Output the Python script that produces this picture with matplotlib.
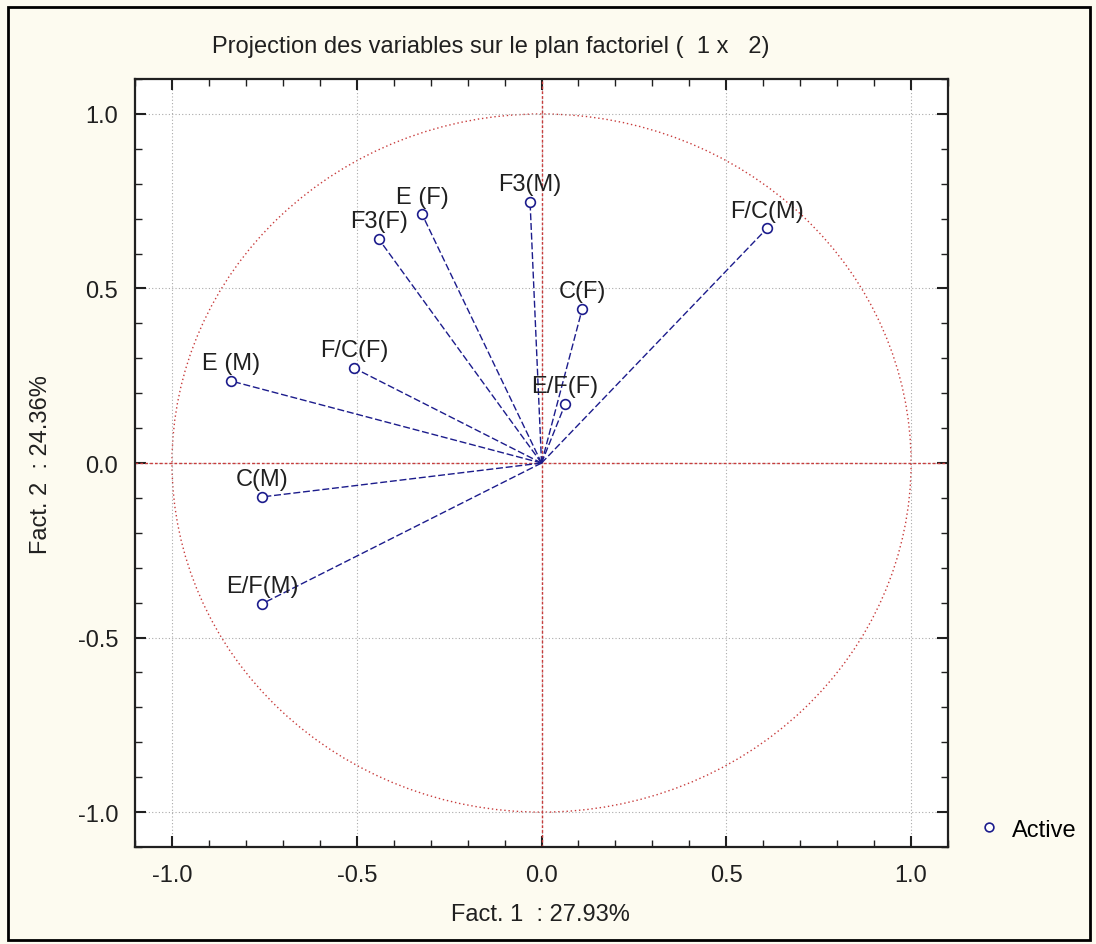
import numpy as np
import matplotlib
matplotlib.use("Agg")
import matplotlib.pyplot as plt
from matplotlib.patches import Rectangle, Circle
from matplotlib.ticker import MultipleLocator

# Variables projected on the factorial plane (Fact. 1 x Fact. 2)
names = ["E (M)", "F/C(F)", "F3(F)", "E (F)", "F3(M)", "C(F)",
         "E/F(F)", "F/C(M)", "C(M)", "E/F(M)"]
fact1 = [-0.840, -0.507, -0.440, -0.323, -0.031, 0.110, 0.064, 0.610, -0.756, -0.756]
fact2 = [0.235, 0.272, 0.641, 0.712, 0.747, 0.441, 0.169, 0.672, -0.097, -0.403]

plt.rcParams['font.family'] = ['Liberation Sans', 'DejaVu Sans']

fig = plt.figure(figsize=(10.96, 9.45), dpi=100, facecolor="#fdfbf0")
ax = fig.add_axes([0.1232, 0.1026, 0.7418, 0.8127])
ax.set_facecolor("white")

navy = "#1c1c8c"
red = "#c83c3c"
txt = "#202020"

# unit circle and axes through the origin
ax.add_patch(Circle((0, 0), 1.0, fill=False, edgecolor=red, linestyle=(0, (1, 2)), linewidth=1.0))
ax.axhline(0, color=red, linestyle=(0, (2, 1.5)), linewidth=1.0)
ax.axvline(0, color=red, linestyle=(0, (2, 1.5)), linewidth=1.0)

# vectors from origin
for x, y in zip(fact1, fact2):
    ax.plot([0, x], [0, y], color=navy, linestyle=(0, (5, 2)), linewidth=1.0)

ax.plot(fact1, fact2, linestyle="none", marker="o", markersize=7,
        markerfacecolor="white", markeredgecolor=navy, markeredgewidth=1.2,
        label="Active", zorder=5)

for n, x, y in zip(names, fact1, fact2):
    ax.annotate(n, (x, y), xytext=(0, 5), textcoords="offset points",
                ha="center", va="bottom", fontsize=17, color=txt)

ax.set_xlim(-1.1, 1.1)
ax.set_ylim(-1.1, 1.1)
ax.xaxis.set_major_locator(MultipleLocator(0.5))
ax.yaxis.set_major_locator(MultipleLocator(0.5))
ax.xaxis.set_minor_locator(MultipleLocator(0.1))
ax.yaxis.set_minor_locator(MultipleLocator(0.1))
ax.xaxis.set_major_formatter(plt.FuncFormatter(lambda v, p: f"{v:.1f}"))
ax.yaxis.set_major_formatter(plt.FuncFormatter(lambda v, p: f"{v:.1f}"))
ax.tick_params(which="both", direction="in", top=True, right=True, labelsize=17,
               colors=txt)
ax.tick_params(which="major", length=8, width=1.5, pad=12)
ax.tick_params(which="minor", length=5, width=1.0)
ax.grid(True, which="major", color="#aaaaaa", linestyle=(0, (1, 2)), linewidth=0.8)
for s in ax.spines.values():
    s.set_linewidth(1.6)
    s.set_color(txt)

fig.text(0.448, 0.950, "Projection des variables sur le plan factoriel (  1 x   2)",
         ha="center", va="center", fontsize=17, color=txt)
fig.text(0.4927, 0.032, "Fact. 1  : 27.93%", ha="center", va="center", fontsize=17, color=txt)
fig.text(0.037, 0.508, "Fact. 2  : 24.36%", ha="center", va="center", rotation=90,
         fontsize=17, color=txt)

ax.legend(loc="center left", bbox_to_anchor=(0.872, 0.121), bbox_transform=fig.transFigure,
          frameon=False, fontsize=17, handletextpad=0.5, handlelength=1.0, markerscale=0.9)

fig.add_artist(Rectangle((8 / 1096, 4 / 945), 1082 / 1096, 933 / 945, transform=fig.transFigure,
                         fill=False, edgecolor="black", linewidth=2))

fig.savefig("out.png", dpi=100, facecolor=fig.get_facecolor())
